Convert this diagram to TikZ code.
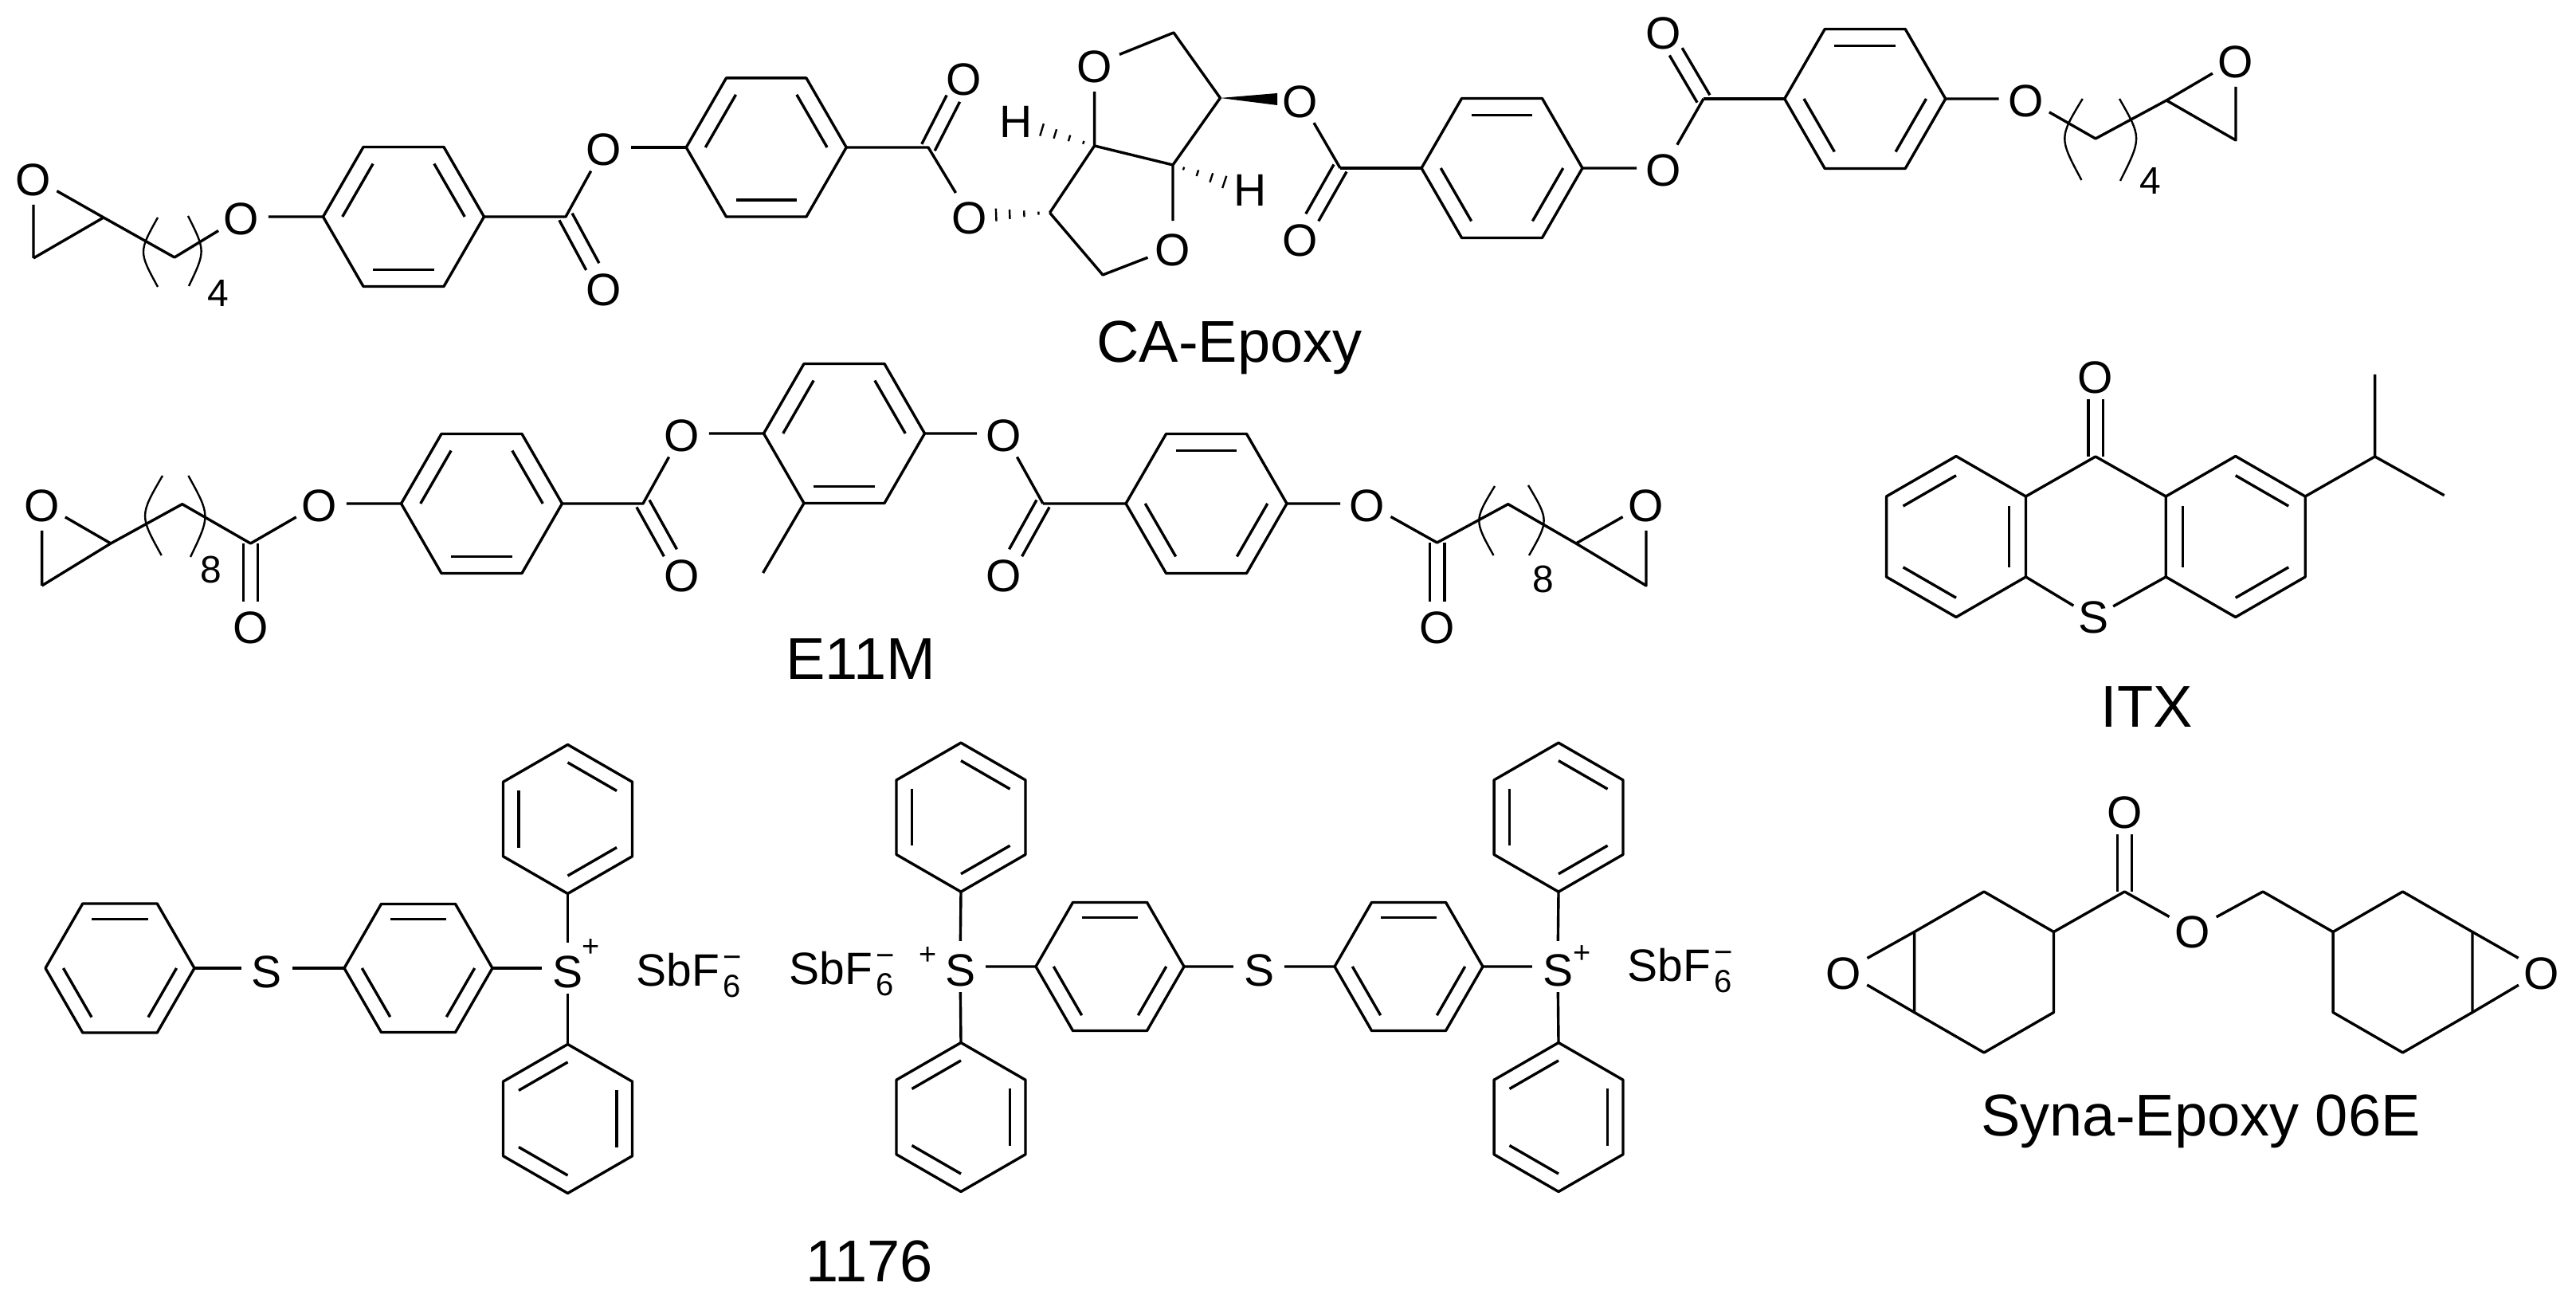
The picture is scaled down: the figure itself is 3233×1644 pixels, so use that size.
\documentclass[tikz,border=0pt]{standalone}
\usepackage{fontspec}
\setmainfont{Liberation Sans}
\usetikzlibrary{calc}
\newcommand{\fsize}[1]{\fontsize{#1}{#1}\selectfont}
\tikzset{
  bond/.style={line width=0.85pt,line join=round,black},
  thinbond/.style={line width=0.6pt,black},
  atom/.style={circle,inner sep=0pt,minimum size=16.5pt,font=\fsize{14.25},text height=11.5pt,text depth=0pt},
  satom/.style={circle,inner sep=0pt,minimum size=14pt,font=\fsize{14.25}},
  cation/.style={circle,inner sep=0pt,minimum size=14.5pt,font=\fsize{14.25},text height=12.4pt,text depth=0pt},
  hatom/.style={inner sep=0pt,font=\fsize{14.25}},
  idx/.style={inner sep=0pt,font=\fsize{12}},
  chg/.style={inner sep=0pt,font=\fsize{9.5}},
  title/.style={inner sep=0pt,anchor=base,font=\fsize{18.5}},
  anion/.style={inner sep=0pt,anchor=base west,font=\fsize{14.25}},
}
\newcommand{\hexring}[6]{%
  \foreach \kk in {0,...,5}{\coordinate (#1-\kk) at ($(#2,#3)+({#5+60*\kk}:#4)$);}
  \draw[bond] (#1-0)--(#1-1)--(#1-2)--(#1-3)--(#1-4)--(#1-5)--cycle;
  \foreach \aa in {#6}{\draw[bond] ($(#2,#3)+({\aa}:{0.76*#4})$) -- ($(#2,#3)+({\aa+60}:{0.76*#4})$);}
}
\newcommand{\dbond}[2]{%
  \draw[bond,shorten >=7.5pt] ($(#1)!2.3pt!90:(#2)$) -- ($(#2)!2.3pt!-90:(#1)$);
  \draw[bond,shorten >=7.5pt] ($(#1)!2.3pt!-90:(#2)$) -- ($(#2)!2.3pt!90:(#1)$);
}
\newcommand{\hashbond}[2]{%
  \foreach \hpos/\hwid in {.14/0.5,.32/1,.5/1.5,.67/2}{
    \coordinate (hb) at ($(#1)!\hpos!(#2)$);
    \draw[thinbond] ($(hb)!\hwid pt!90:(#2)$) -- ($(hb)!\hwid pt!-90:(#2)$);
  }
}
\newcommand{\sbfsix}{SbF\hspace{1pt}\rlap{\raisebox{-3.5pt}{\fsize{10}6}}\raisebox{5.75pt}{\fsize{10}−}}
\begin{document}
\begin{tikzpicture}[x=0.25pt,y=-0.25pt]
\path[use as bounding box,fill=white] (0,0) rectangle (3233,1644);

% ---------- CA-Epoxy ----------
\node[atom] (oe1) at (42,223) {O};
\coordinate (e1c) at (130,273);
\coordinate (e1b) at (42,324);
\coordinate (c1a) at (219,323);
\node[atom] (o1) at (303,272) {O};
\draw[bond] (oe1)--(e1c) (oe1)--(e1b) (e1b)--(e1c) (e1c)--(c1a)--(o1);
\draw[thinbond] (198,273) .. controls (174,316) .. (198,360);
\draw[thinbond] (236,271) .. controls (258,315) .. (237,359);
\node[idx] (n4a) at (274,368) {4};
\hexring{r1}{506.5}{272}{101}{0}{60,180,300}
\coordinate (c2) at (710,272);
\node[atom] (o2) at (758,185) {O};
\node[atom] (o3) at (758,361) {O};
\draw[bond] (o1)--(r1-3) (r1-0)--(c2)--(o2);
\dbond{c2}{o3}
\hexring{r2}{961.7}{185}{100.5}{0}{60,180,300}
\draw[bond] (o2)--(r2-3);
\coordinate (c3) at (1165,185);
\node[atom] (o4) at (1210,97) {O};
\node[atom] (o5) at (1217,271) {O};
\draw[bond] (r2-0)--(c3)--(o5);
\dbond{c3}{o4}
\coordinate (c4) at (1317.5,267);
\coordinate (j1) at (1373.6,183);
\coordinate (j2) at (1472,207);
\coordinate (c5) at (1384,345);
\coordinate (c6) at (1473,41);
\coordinate (c7) at (1531.4,123);
\node[atom] (o6) at (1472,311) {O};
\node[atom] (o7) at (1373.6,81) {O};
\node[hatom] (h1) at (1275,153) {H};
\node[hatom] (h2) at (1568.6,239) {H};
\draw[bond] (c4)--(c5)--(o6)--(j2)--(j1)--(c4) (j1)--(o7)--(c6)--(c7)--(j2);
\hashbond{c4}{o5}
\hashbond{j1}{h1}
\hashbond{j2}{h2}
\node[atom] (o8) at (1632,125) {O};
\coordinate (wa) at (1603,117);
\coordinate (wb) at (1603,132);
\fill[black] (c7)--(wa)--(wb)--cycle;
\coordinate (c8) at (1682,211);
\node[atom] (o9) at (1632,299) {O};
\draw[bond] (o8)--(c8);
\dbond{c8}{o9}
\hexring{r3}{1885}{211}{101}{0}{0,120,240}
\draw[bond] (c8)--(r3-3);
\node[atom] (o10) at (2088,211) {O};
\coordinate (c9) at (2138,124);
\node[atom] (o11) at (2088,39) {O};
\draw[bond] (r3-0)--(o10)--(c9);
\dbond{c9}{o11}
\hexring{r4}{2340.7}{124}{101}{0}{0,120,240}
\draw[bond] (c9)--(r4-3);
\node[atom] (o12) at (2542.5,124) {O};
\coordinate (c10) at (2630,174);
\coordinate (e2c) at (2719,126);
\node[atom] (oe2) at (2806,75) {O};
\coordinate (e2b) at (2806,176);
\draw[bond] (r4-0)--(o12)--(c10)--(e2c)--(oe2)--(e2b)--(e2c);
\draw[thinbond] (2613.7,124) .. controls (2584,173) .. (2612.4,226);
\draw[thinbond] (2660,124) .. controls (2688,173) .. (2661,227);
\node[idx] (n4b) at (2699,227) {4};
\node[title] (tca) at (1543,455) {CA-Epoxy};

% ---------- E11M ----------
\node[atom] (oe3) at (52.6,632) {O};
\coordinate (e3c) at (139,682);
\coordinate (e3b) at (52.6,735);
\coordinate (c11) at (228.7,632.7);
\coordinate (c12) at (314.5,682);
\node[atom] (o13) at (401,632) {O};
\node[atom] (o14) at (314.5,785) {O};
\draw[bond] (oe3)--(e3c) (oe3)--(e3b) (e3b)--(e3c) (e3c)--(c11)--(c12)--(o13);
\dbond{c12}{o14}
\draw[thinbond] (204,597) .. controls (175,647) .. (202.7,697);
\draw[thinbond] (236.4,597) .. controls (264,647) .. (239,699);
\node[idx] (n8a) at (264.5,715) {8};
\hexring{r5}{604.5}{632}{101}{0}{60,180,300}
\coordinate (c13) at (807,632);
\node[atom] (o15) at (856,544) {O};
\node[atom] (o16) at (856,720) {O};
\draw[bond] (o13)--(r5-3) (r5-0)--(c13)--(o15);
\dbond{c13}{o16}
\hexring{r6}{1059.5}{544}{101}{0}{60,180,300}
\coordinate (me) at (957.6,719);
\node[atom] (o17) at (1260,544) {O};
\coordinate (c14) at (1309,632);
\node[atom] (o18) at (1260,720) {O};
\draw[bond] (o15)--(r6-3) (r6-2)--(me) (r6-0)--(o17)--(c14);
\dbond{c14}{o18}
\hexring{r7}{1514}{632}{101}{0}{0,120,240}
\node[atom] (o19) at (1716,632) {O};
\coordinate (c15) at (1803.6,681);
\node[atom] (o20) at (1803.6,785) {O};
\coordinate (c16) at (1892.7,632.7);
\coordinate (e4c) at (1978,682);
\node[atom] (oe4) at (2066,632) {O};
\coordinate (e4b) at (2066,735);
\draw[bond] (c14)--(r7-3) (r7-0)--(o19)--(c15)--(c16)--(e4c)--(oe4)--(e4b)--(e4c);
\dbond{c15}{o20}
\draw[thinbond] (1876,610) .. controls (1850,653) .. (1874.5,697);
\draw[thinbond] (1918,609) .. controls (1944,653) .. (1919,697);
\node[idx] (n8b) at (1937,727) {8};
\node[title] (te11) at (1080,853) {E11M};

% ---------- ITX ----------
\hexring{r8}{2455}{673.5}{101}{30}{90,210,330}
\hexring{r9}{2805.7}{673.5}{101}{30}{30,150,270}
\coordinate (c17) at (2630,573);
\node[atom] (oit) at (2630,471) {O};
\node[satom] (s1) at (2627,775) {S};
\coordinate (c18) at (2980.6,573);
\coordinate (m1) at (2980.6,470);
\coordinate (m2) at (3067.6,621.7);
\draw[bond] (r8-5)--(c17)--(r9-3) (r8-0)--(s1)--(r9-2) (r9-5)--(c18)--(m1) (c18)--(m2);
\dbond{c17}{oit}
\node[title] (titx) at (2694,913) {ITX};

% ---------- Syna-Epoxy 06E ----------
\hexring{r10}{2490}{1220}{101}{30}{}
\hexring{r11}{3015.5}{1220}{101}{30}{}
\node[atom] (os1) at (2314,1219) {O};
\node[atom] (os2) at (3190,1219) {O};
\coordinate (c19) at (2666.4,1119);
\node[atom] (os3) at (2666.4,1017) {O};
\node[atom] (os4) at (2752,1167) {O};
\coordinate (c20) at (2840,1119);
\draw[bond] (os1)--(r10-3) (os1)--(r10-2) (os2)--(r11-5) (os2)--(r11-0);
\draw[bond] (r10-5)--(c19)--(os4)--(c20)--(r11-3);
\dbond{c19}{os3}
\node[title] (tsyn) at (2762,1425) {Syna-Epoxy 06E};

% ---------- mono sulfonium salt ----------
\hexring{ra}{150.5}{1215}{93.5}{0}{0,120,240}
\node[cation] (s2) at (335,1215) {S};
\hexring{rb}{525}{1215}{93}{0}{0,120,240}
\node[cation] (s3) at (712.5,1215) {S};
\hexring{rc}{712.5}{1028}{93.5}{30}{30,150,270}
\hexring{rd}{712.5}{1404}{93.5}{30}{90,210,330}
\draw[bond] (ra-0)--(s2)--(rb-3) (rb-0)--(s3) (s3)--(rc-1) (s3)--(rd-4);
\node[chg] (p1) at (742,1190) {+};
\node[anion] (sb1) at (798,1238) {\sbfsix};

% ---------- bis sulfonium salt ----------
\node[anion] (sb2) at (990,1236) {\sbfsix};
\node[chg] (p2) at (1165,1200) {+};
\node[cation] (s4) at (1205,1213) {S};
\hexring{re}{1206}{1025.7}{93.5}{30}{30,150,270}
\hexring{rf}{1206}{1402}{93.5}{30}{90,210,330}
\hexring{rg}{1393}{1213}{93}{0}{0,120,240}
\node[cation] (s5) at (1580,1213) {S};
\hexring{rh}{1768}{1213}{93}{0}{0,120,240}
\node[cation] (s6) at (1955,1213) {S};
\hexring{ri}{1956}{1025.7}{93.5}{30}{30,150,270}
\hexring{rj}{1956}{1402}{93.5}{30}{90,210,330}
\draw[bond] (s4)--(re-1) (s4)--(rf-4) (s4)--(rg-3) (rg-0)--(s5)--(rh-3) (rh-0)--(s6) (s6)--(ri-1) (s6)--(rj-4);
\node[chg] (p3) at (1986,1198) {+};
\node[anion] (sb3) at (2042,1232) {\sbfsix};
\node[title] (t1176) at (1091,1608) {1176};
\end{tikzpicture}
\end{document}
